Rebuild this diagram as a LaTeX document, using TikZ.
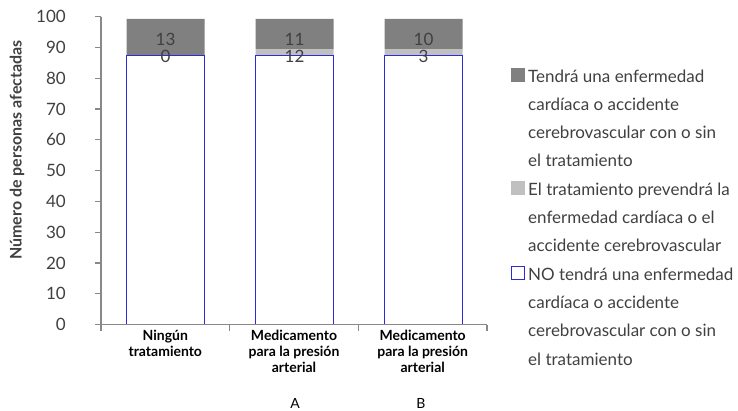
\documentclass[tikz,border=0pt]{standalone}
\usepackage{fontspec}
\setmainfont{Lato}
\usepackage{xcolor}
\definecolor{axisgray}{HTML}{888888}
\definecolor{darkbar}{HTML}{808080}
\definecolor{lightbar}{HTML}{C0C0C0}
\definecolor{barblue}{HTML}{2B2BD8}
\definecolor{txtgray}{HTML}{404040}

\begin{document}
\begin{tikzpicture}[x=1pt,y=1pt,
    axis/.style={draw=axisgray, line width=1.2pt},
    barline/.style={draw=barblue, line width=1.2pt},
    ticklbl/.style={anchor=east, inner sep=0pt, text=txtgray, font=\fontsize{17}{20}\selectfont},
    barlbl/.style={inner sep=0pt, text=txtgray, font=\fontsize{17}{20}\selectfont},
    catlbl/.style={anchor=north, inner sep=0pt, align=center, text=black, font=\bfseries\fontsize{14}{16}\selectfont},
    legsq/.style={minimum size=14pt, inner sep=0pt},
    legtxt/.style={anchor=base west, inner sep=0pt, align=left, text=txtgray, font=\fontsize{17}{28.3}\selectfont}]
		\useasboundingbox (-101,-85.5) rectangle (637,324.5);
		% barras: 87.4 / 89.5 / 99.3
		\fill[darkbar] \foreach \c/\l in {1/87.4, 2/89.5, 3/89.5}
			{(\c*129-103.5,\l*3.078) rectangle (\c*129-25.5,99.3*3.078)};
		\fill[lightbar] \foreach \c in {2,3}
			{(\c*129-103.5,87.4*3.078) rectangle (\c*129-25.5,89.5*3.078)};
		\draw[barline] \foreach \c in {1,2,3}
			{(\c*129-103.5,0) rectangle (\c*129-25.5,87.4*3.078)};
		% ejes
		\draw[axis] (0,307.8) -- (0,0) -- (386,0)
			\foreach \v in {0,10,...,100} {(-6,\v*3.078) -- (0,\v*3.078)}
			\foreach \x in {0,128.67,257.33,386} {(\x,0) -- (\x,-6.5)};
		% leyenda
		\node[legsq, fill=darkbar] (sq1) at (417,249.5) {};
		\node[legsq, fill=lightbar] (sq2) at (417,136.5) {};
		\node[legsq, minimum size=12.5pt, draw=barblue, line width=0.9pt] (sq3) at (417,51.5) {};
		% textos
		\foreach \c/\ta/\tb in {1/13/0, 2/11/12, 3/10/3} {
			\node[barlbl] (top\c) at (\c*129-64.5,92.7*3.078) {\ta};
			\node[barlbl] (bot\c) at (\c*129-64.5,87.0*3.078) {\tb};
		}
		\foreach \v in {0,10,...,100}
			\node[ticklbl] (y\v) at (-35,\v*3.078) {\v};
		\node[rotate=90, inner sep=0pt, text=txtgray, font=\bfseries\fontsize{16}{18}\selectfont] (ylbl) at (-84,174.5) {Número de personas afectadas};
		\node[catlbl] (cat1) at (64.3,-5) {Ningún\\tratamiento};
		\node[catlbl] (cat2) at (193,-5) {Medicamento\\para la presión\\arterial};
		\node[catlbl] (cat3) at (321.7,-5) {Medicamento\\para la presión\\arterial};
		\node[anchor=base, inner sep=0pt, font=\fontsize{14}{16}\selectfont] (lblA) at (194,-83.5) {A};
		\node[anchor=base, inner sep=0pt, font=\fontsize{14}{16}\selectfont] (lblB) at (320,-83.5) {B};
		\node[legtxt] (leg1) at (427,157.6) {Tendrá una enfermedad\\cardíaca o accidente\\cerebrovascular con o sin\\el tratamiento};
		\node[legtxt] (leg2) at (427,72.7) {El tratamiento prevendrá la\\enfermedad cardíaca o el\\accidente cerebrovascular};
		\node[legtxt] (leg3) at (427,-40.5) {NO tendrá una enfermedad\\cardíaca o accidente\\cerebrovascular con o sin\\el tratamiento};
\end{tikzpicture}
\end{document}
